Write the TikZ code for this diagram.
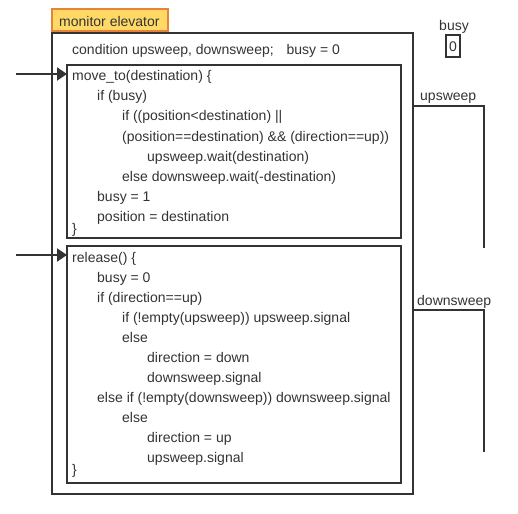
\documentclass[tikz,border=0pt]{standalone}
\usepackage{fontspec}
\setmainfont{Liberation Sans}
\usetikzlibrary{arrows.meta}
\definecolor{ink}{HTML}{333333}
\definecolor{lblfill}{HTML}{FFD966}
\definecolor{lbldraw}{HTML}{E6823A}
\tikzset{
  code/.style={anchor=base west, inner sep=0pt, text=ink, font=\fontsize{14}{16}\selectfont, yshift=-1pt},
  ctr/.style={anchor=base, inner sep=0pt, text=ink, font=\fontsize{14}{16}\selectfont, yshift=-1pt},
  frame/.style={draw=ink, line width=2pt, rectangle, inner sep=0pt},
  wire/.style={draw=ink, line width=2pt},
  entry/.style={draw=ink, line width=2pt, -{Triangle[length=10pt,width=13pt]}, shorten >=-1pt},
}
\begin{document}
\begin{tikzpicture}[x=1pt,y=-1pt]
\useasboundingbox (0,0) rectangle (518,513);
% frames
\node[frame, minimum width=361pt, minimum height=461pt] (outer) at (232.5,263.5) {};
\node[frame, draw=lbldraw, fill=lblfill, minimum width=116pt, minimum height=22pt] (title) at (110,20) {};
\node[code] (titletext) at (59,26) {monitor elevator};
\node[frame, minimum width=334pt, minimum height=173pt] (box1) at (234,151.5) {};
\node[frame, minimum width=334pt, minimum height=237pt] (box2) at (234,364.5) {};
\node[frame, minimum width=14pt, minimum height=22pt] (busybox) at (453,46) {};
\node[ctr] (busylbl) at (454,30) {busy};
\node[ctr] (busyval) at (453,51) {0};
% header line
\node[code] (cond) at (72,54) {condition upsweep, downsweep;\hspace{9pt} busy = 0};
% move_to
\node[code] (a1) at (72,80) {move\_to(destination) \{};
\node[code] (a2) at (97,100) {if (busy)};
\node[code] (a3) at (122,120) {if ((position<destination) ||};
\node[code] (a4) at (122,140) {(position==destination) \&\& (direction==up))};
\node[code] (a5) at (147,160) {upsweep.wait(destination)};
\node[code] (a6) at (122,180) {else downsweep.wait(-destination)};
\node[code] (a7) at (97,200) {busy = 1};
\node[code] (a8) at (97,220) {position = destination};
\node[code] (a9) at (72,232) {\}};
% release
\node[code] (b1) at (72,261) {release() \{};
\node[code] (b2) at (97,281) {busy = 0};
\node[code] (b3) at (97,301) {if (direction==up)};
\node[code] (b4) at (122,321) {if (!empty(upsweep)) upsweep.signal};
\node[code] (b5) at (122,341) {else};
\node[code] (b6) at (147,361) {direction = down};
\node[code] (b7) at (147,381) {downsweep.signal};
\node[code] (b8) at (97,401) {else if (!empty(downsweep)) downsweep.signal};
\node[code] (b9) at (122,421) {else};
\node[code] (b10) at (147,441) {direction = up};
\node[code] (b11) at (147,461) {upsweep.signal};
\node[code] (b12) at (72,473) {\}};
% entry arrows
\coordinate (in1) at (16,74);
\coordinate (in2) at (16,255);
\draw[entry] (in1) -- (in1 -| box1.west);
\draw[entry] (in2) -- (in2 -| box2.west);
% condition queues
\coordinate (uy) at (0,106);
\coordinate (upend) at (484,248);
\coordinate (dy) at (0,310);
\coordinate (downend) at (484,452);
\draw[wire] (outer.east |- uy) -| (upend);
\draw[wire] (outer.east |- dy) -| (downend);
\node[code] (uplbl) at (420,100) {upsweep};
\node[code] (downlbl) at (417,304) {downsweep};
\end{tikzpicture}
\end{document}
